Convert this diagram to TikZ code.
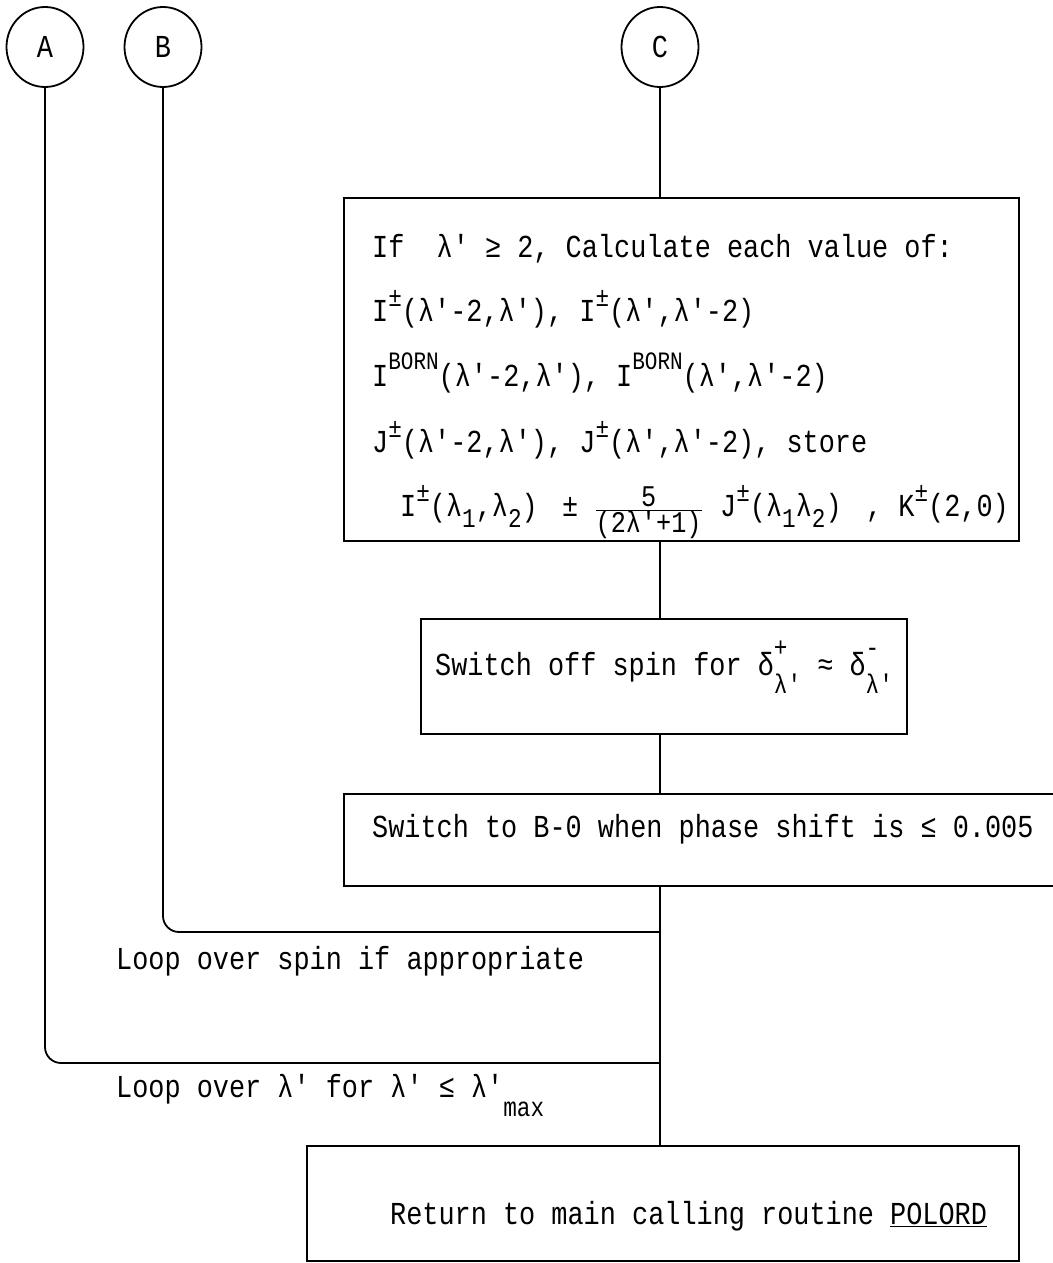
\documentclass[tikz,border=0pt]{standalone}
\usepackage{fontspec}
\setmonofont[FakeStretch=0.84]{Liberation Mono}
\usetikzlibrary{shapes.geometric}
\newcommand\scr{\fontsize{27}{29}\selectfont}
\newcommand\fr{\fontsize{30}{32}\selectfont}
\newcommand\upx[1]{\raisebox{15pt}{\scr #1}}
\newcommand\upb[1]{\raisebox{17pt}{\fontsize{25}{27}\selectfont #1}}
\newcommand\dnx[1]{\raisebox{-11pt}{\scr #1}}
\newcommand\updn[2]{\rlap{\raisebox{19pt}{\scr #1}}\raisebox{-18pt}{\scr #2}}
\begin{document}
\begin{tikzpicture}[x=1pt,y=-1pt,
  font=\ttfamily\fontsize{32}{38}\selectfont,
  box/.style={draw, line width=1.8pt, inner sep=0pt, anchor=north west},
  conn/.style={line width=1.8pt},
  circ/.style={draw, ellipse, line width=1.8pt, minimum width=77pt, minimum height=80pt, inner sep=0pt},
  txt/.style={anchor=base west, inner sep=0pt}]
\useasboundingbox (0,0) rectangle (1052,1263);
% circles
\node[circ] (A) at (45,47) {A};
\node[circ] (B) at (163,47) {B};
\node[circ] (C) at (660,47) {C};
% boxes
\node[box, minimum width=675pt, minimum height=343pt] (calc) at (343,197) {};
\node[box, minimum width=486pt, minimum height=115pt] (sw) at (420,618) {};
\node[box, minimum width=760pt, minimum height=92pt] (b0) at (343,793) {};
\node[box, minimum width=712pt, minimum height=115pt] (ret) at (306,1145) {};
% texts
\node[txt] (t1) at (372,257) {If~~λ' ≥ 2, Calculate each value of:};
\node[txt] (t2) at (372,321) {I\upx{±}(λ'-2,λ'), I\upx{±}(λ',λ'-2)};
\node[txt] (t3) at (372,386) {I\upb{BORN}(λ'-2,λ'), I\upb{BORN}(λ',λ'-2)};
\node[txt] (t4) at (372,452) {J\upx{±}(λ'-2,λ'), J\upx{±}(λ',λ'-2), store};
\node[txt] (t5a) at (400,516) {I\upx{±}(λ\dnx{1},λ\dnx{2})};
\node[txt] (t5b) at (562,516) {± $\frac{\hbox{\fr 5}}{\hbox{\fr (2λ'+1)}}$};
\node[txt] (t5c) at (720,516) {J\upx{±}(λ\dnx{1}λ\dnx{2})};
\node[txt] (t5d) at (866,516) {, K\upx{±}(2,0)};
\node[txt] (t6) at (435,675) {Switch off spin for δ\updn{+}{λ'} ≈ δ\updn{-}{λ'}};
\node[txt] (t7) at (372,837) {Switch to B-0 when phase shift is ≤ 0.005};
\node[txt] (t8) at (116,969) {Loop over spin if appropriate};
\node[txt] (t9) at (116,1097) {Loop over λ' for λ' ≤ λ'\raisebox{-19pt}{\scr max}};
\node[txt] (t10) at (390,1224) {Return to main calling routine \underline{POLORD}};
% connectors
\coordinate (jB) at (660,932);
\coordinate (jA) at (660,1063);
\draw[conn] (C) -- (C |- calc.north);
\draw[conn] (C |- calc.south) -- (C |- sw.north);
\draw[conn] (C |- sw.south) -- (C |- b0.north);
\draw[conn] (C |- b0.south) -- (C |- ret.north);
\draw[conn, rounded corners=16pt] (B) |- (jB);
\draw[conn, rounded corners=16pt] (A) |- (jA);
\end{tikzpicture}
\end{document}
